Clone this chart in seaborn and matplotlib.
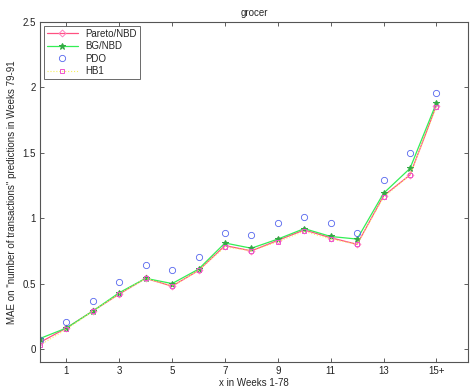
import matplotlib
matplotlib.use("Agg")
import matplotlib.pyplot as plt
import seaborn as sns
import pandas as pd

sns.set_style("white")
plt.rcParams['font.family'] = ['Liberation Sans', 'DejaVu Sans']

x_vals = list(range(16))
pareto = [0.05, 0.16, 0.29, 0.42, 0.54, 0.48, 0.60, 0.79, 0.75, 0.83, 0.91, 0.85, 0.80, 1.17, 1.33, 1.86]
bgnbd = [0.08, 0.16, 0.29, 0.43, 0.54, 0.50, 0.61, 0.81, 0.77, 0.84, 0.92, 0.86, 0.84, 1.19, 1.38, 1.88]
pdo = [0.07, 0.21, 0.37, 0.51, 0.64, 0.60, 0.70, 0.89, 0.87, 0.96, 1.01, 0.96, 0.89, 1.29, 1.50, 1.96]
hb1 = [0.03, 0.15, 0.29, 0.42, 0.54, 0.48, 0.60, 0.78, 0.75, 0.82, 0.90, 0.84, 0.80, 1.16, 1.33, 1.85]
xtick_pos = [1, 3, 5, 7, 9, 11, 13, 15]
xtick_labels = ['1', '3', '5', '7', '9', '11', '13', '15+']
ytick_pos = [0, 0.5, 1, 1.5, 2, 2.5]
ytick_labels = ['0', '0.5', '1', '1.5', '2', '2.5']

df = pd.DataFrame({'x': x_vals, 'Pareto/NBD': pareto, 'BG/NBD': bgnbd, 'PDO': pdo, 'HB1': hb1})

fig = plt.figure(figsize=(4.7, 3.91), dpi=100)
ax = fig.add_axes([0.085, 0.074, 0.911, 0.870])

sns.lineplot(data=df, x='x', y='Pareto/NBD', ax=ax, color='#ff5080', lw=0.9,
             marker='D', markersize=3.5, markerfacecolor='none', markeredgecolor='#ff80c0',
             markeredgewidth=0.7, label='Pareto/NBD')
sns.lineplot(data=df, x='x', y='BG/NBD', ax=ax, color='#33ee55', lw=0.9,
             marker='*', markersize=5, markerfacecolor='#33aa44', markeredgecolor='#33aa44',
             label='BG/NBD')
sns.lineplot(data=df, x='x', y='PDO', ax=ax, color='#4455ee', lw=0,
             marker='o', markersize=4.5, markerfacecolor='none', markeredgecolor='#5566ee',
             markeredgewidth=0.6, label='PDO')
sns.lineplot(data=df, x='x', y='HB1', ax=ax, color='#f5f060', lw=0.8, linestyle=':',
             marker='s', markersize=3.5, markerfacecolor='none', markeredgecolor='#ee55cc',
             markeredgewidth=0.7, label='HB1')

ax.set_xlim(0, 16.2)
ax.set_ylim(-0.1, 2.5)
ax.set_xticks(xtick_pos)
ax.set_xticklabels(xtick_labels)
ax.set_yticks(ytick_pos)
ax.set_yticklabels(ytick_labels)
ax.tick_params(direction='in', length=3, width=0.6, labelsize=7, top=True, right=True,
               bottom=True, left=True, colors='#444444', labelcolor='#222222', pad=3)
for s in ax.spines.values():
    s.set_visible(True)
    s.set_color('#555555')
    s.set_linewidth(0.8)

ax.set_title('grocer', fontsize=7, pad=4)
ax.set_xlabel('x in Weeks 1-78', fontsize=7, labelpad=1)
ax.set_ylabel('MAE on "number of transactions" predictions in Weeks 79-91', fontsize=7, labelpad=4)

leg = ax.legend(loc='upper left', fontsize=7, frameon=True, fancybox=False,
                handlelength=3.2, borderpad=0.3, labelspacing=0.25, borderaxespad=0.4)
leg.get_frame().set_edgecolor('#444444')
leg.get_frame().set_linewidth(0.7)

fig.savefig('out.png', dpi=100)
